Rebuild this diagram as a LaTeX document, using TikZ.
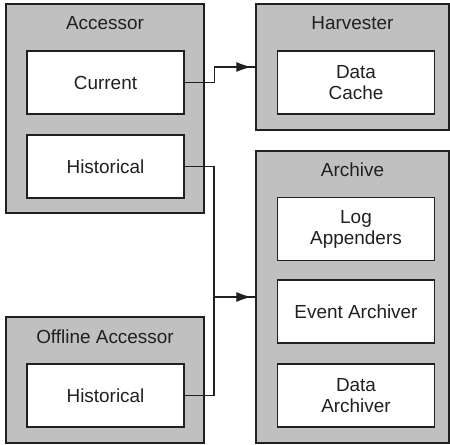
\documentclass[tikz,border=0pt]{standalone}
\usepackage{fontspec}
\setmainfont{Liberation Sans}
\usetikzlibrary{arrows.meta,decorations.markings}
\definecolor{panelgray}{HTML}{C0C0C0}
\definecolor{edge}{HTML}{202020}
\begin{document}
\begin{tikzpicture}[x=1bp,y=-1bp,
  every node/.style={font=\fontsize{19}{21}\selectfont, text=edge},
  panel/.style={draw=edge, line width=1.4bp, fill=panelgray, inner sep=0pt},
  part/.style={draw=edge, line width=1.4bp, fill=white, inner sep=0pt, minimum width=157bp, minimum height=63bp, align=center},
  title/.style={inner sep=0pt},
  link/.style={draw=edge, line width=1.2bp},
  arrowed/.style={link, postaction={decorate}, decoration={markings, mark=at position -4bp with {\arrow{Latex[length=15bp,width=10bp]}}}}
]
\useasboundingbox (0,0) rectangle (450,445);
% panels
\node[panel, minimum width=198bp, minimum height=209bp] (acc) at (105,108.5) {};
\node[panel, minimum width=193bp, minimum height=126bp] (harv) at (352.5,67) {};
\node[panel, minimum width=193bp, minimum height=292bp] (arch) at (352.5,297) {};
\node[panel, minimum width=198bp, minimum height=126bp] (off) at (105,380) {};
% titles
\node[title] (accT) at (105,23) {Accessor};
\node[title] (harvT) at (352.5,23) {Harvester};
\node[title] (archT) at (352.5,170) {Archive};
\node[title] (offT) at (105,337) {Offline Accessor};
% parts
\node[part] (cur) at (105.5,82.5) {Current};
\node[part] (hist) at (105.5,166.5) {Historical};
\node[part] (cache) at (356,82.5) {Data\\Cache};
\node[part] (log) at (356,229) {Log\\Appenders};
\node[part] (event) at (356,311.5) {Event Archiver};
\node[part] (darch) at (356,395.5) {Data\\Archiver};
\node[part] (ohist) at (105.5,395.5) {Historical};
% connectors
\coordinate (jn) at (214,297);
\draw[arrowed] (cur.east) -- ++(30,0) |- (harv.west);
\draw[link] (hist.east) -| (jn);
\draw[link] (ohist.east) -| (jn);
\draw[arrowed] (jn) -- (arch.west);
\end{tikzpicture}
\end{document}
